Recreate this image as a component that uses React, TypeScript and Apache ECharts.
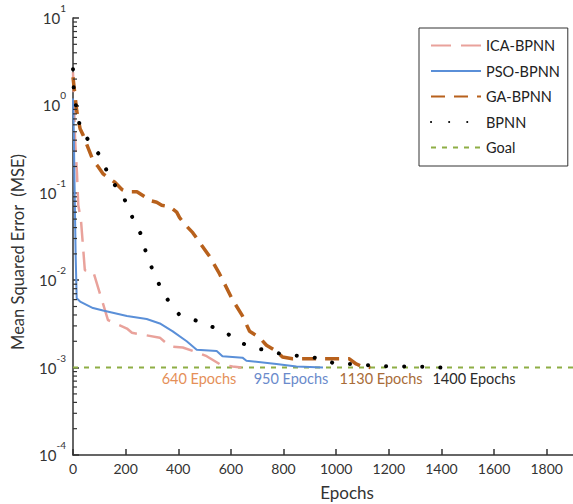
import React, { useEffect, useRef } from "react";
import * as echarts from "echarts";

// ---- data ----
const icaEpochs = [0, 8, 15, 20, 30, 45, 77, 133, 205, 224, 330, 368, 417, 470, 508, 557, 606, 640];
const icaMse = [2.4, 0.4, 0.17, 0.072, 0.05, 0.013, 0.0125, 0.0035, 0.0028, 0.0025, 0.0022, 0.00175, 0.0017, 0.0015, 0.00135, 0.0011, 0.00103, 0.001];

const psoEpochs = [0, 3, 6, 10, 14, 27, 76, 114, 205, 280, 330, 379, 432, 470, 546, 568, 644, 659, 773, 849, 950];
const psoMse = [1.2, 0.5, 0.12, 0.02, 0.0062, 0.0057, 0.0048, 0.0045, 0.0039, 0.0036, 0.0032, 0.0026, 0.002, 0.0016, 0.00155, 0.00135, 0.0013, 0.0012, 0.0011, 0.00103, 0.001];

const gaEpochs = [0, 14, 27, 38, 76, 95, 114, 133, 159, 186, 205, 243, 273, 284, 318, 337, 368, 394, 405, 424, 455, 519, 557, 606, 644, 671, 709, 735, 773, 796, 834, 909, 985, 1050, 1076, 1099, 1130];
const gaMse = [2.1, 0.87, 0.54, 0.46, 0.235, 0.2, 0.165, 0.15, 0.132, 0.109, 0.103, 0.103, 0.09, 0.083, 0.078, 0.072, 0.069, 0.06, 0.052, 0.044, 0.035, 0.0187, 0.0118, 0.006, 0.0039, 0.0026, 0.0022, 0.0018, 0.00154, 0.00132, 0.00126, 0.00126, 0.00126, 0.00126, 0.0011, 0.00103, 0.001];

const bpEpochs = [0, 3, 14, 29, 67, 105, 133, 167, 205, 227, 257, 279, 303, 332, 364, 402, 462, 519, 576, 625, 682, 746, 803, 879, 944, 1000, 1069, 1144, 1213, 1285, 1353, 1400];
const bpMse = [2.6, 1.5, 0.87, 0.53, 0.37, 0.26, 0.165, 0.112, 0.076, 0.051, 0.034, 0.02, 0.013, 0.0083, 0.0057, 0.0041, 0.0035, 0.003, 0.0026, 0.002, 0.0017, 0.00155, 0.0014, 0.00135, 0.00126, 0.0011, 0.0011, 0.00105, 0.00103, 0.00103, 0.00102, 0.001];

const goalEpochs = [0, 1900];
const goalMse = [0.001, 0.001];

const seriesNames = ["ICA-BPNN", "PSO-BPNN", "GA-BPNN", "BPNN", "Goal"];
const annotationTexts = ["640 Epochs", "950 Epochs", "1130 Epochs", "1400 Epochs"];
const xTickLabels = [0, 200, 400, 600, 800, 1000, 1200, 1400, 1600, 1800];
const yDecades = [-4, -3, -2, -1, 0, 1];

const FONT = "Lato";

function pairs(xs: number[], ys: number[]) {
  return xs.map((x, i) => [x, ys[i]]);
}

export default function App() {
  const ref = useRef<HTMLDivElement>(null);

  useEffect(() => {
    if (!ref.current) return;
    const chart = echarts.init(ref.current, undefined, { renderer: "svg" });

    // log-style minor ticks (2..9 x 10^k) on the y axis
    const minorTicks: number[][] = [];
    for (let i = 0; i < yDecades.length - 1; i++) {
      for (let m = 2; m <= 9; m++) minorTicks.push([0, m * Math.pow(10, yDecades[i])]);
    }

    const option: any = {
      animation: false,
      backgroundColor: "#fff",
      textStyle: { fontFamily: FONT },
      grid: {
        left: 73,
        right: 0,
        top: 18,
        bottom: 49,
        containLabel: false,
        outerBoundsMode: "none",
      },
      legend: {
        data: seriesNames,
        orient: "vertical",
        left: 419,
        top: 28,
        itemWidth: 50,
        itemHeight: 14,
        itemGap: 10.5,
        padding: [10, 8, 11, 11],
        backgroundColor: "#fff",
        borderColor: "#333",
        borderWidth: 1,
        borderRadius: 0,
        itemStyle: { opacity: 0, borderWidth: 0 },
        textStyle: { fontFamily: FONT, fontSize: 14.5, color: "#222" },
      },
      xAxis: {
        type: "value",
        min: 0,
        max: 1900,
        interval: 200,
        splitLine: { show: false },
        axisLine: { show: true, lineStyle: { color: "#333", width: 1.5 } },
        axisTick: { show: true, inside: true, length: 6, lineStyle: { color: "#333", width: 1.5 } },
        axisLabel: {
          margin: 6,
          fontFamily: FONT,
          fontSize: 14,
          color: "#333",
          showMaxLabel: false,
          formatter: (v: number) => (xTickLabels.indexOf(v) >= 0 ? String(v) : ""),
        },
      },
      yAxis: {
        type: "log",
        logBase: 10,
        min: Math.pow(10, yDecades[0]),
        max: Math.pow(10, yDecades[yDecades.length - 1]),
        splitLine: { show: false },
        axisLine: { show: true, lineStyle: { color: "#333", width: 1.5 } },
        axisTick: { show: true, inside: true, length: 6, lineStyle: { color: "#333", width: 1.5 } },
        axisLabel: {
          margin: 7,
          fontFamily: FONT,
          color: "#333",
          formatter: (v: number) => `{b|10}{s|${Math.round(Math.log10(v))}}`,
          rich: {
            b: { fontFamily: FONT, fontSize: 15, color: "#333", lineHeight: 30, verticalAlign: "middle" },
            s: { fontFamily: FONT, fontSize: 10, color: "#333", verticalAlign: "top" },
          },
        },
      },
      series: [
        {
          name: "ICA-BPNN",
          type: "line",
          data: pairs(icaEpochs, icaMse),
          symbol: "none",
          color: "#e9a29b",
          lineStyle: { color: "#e9a29b", width: 2.5, type: [20, 10] },
          z: 3,
        },
        {
          name: "PSO-BPNN",
          type: "line",
          data: pairs(psoEpochs, psoMse),
          symbol: "none",
          color: "#5a8fd8",
          lineStyle: { color: "#5a8fd8", width: 2, type: "solid" },
          z: 4,
        },
        {
          name: "GA-BPNN",
          type: "line",
          data: pairs(gaEpochs, gaMse),
          symbol: "none",
          color: "#b8611c",
          lineStyle: { color: "#b8611c", width: 3.5, type: [14, 9] },
          z: 5,
        },
        {
          name: "BPNN",
          type: "line",
          data: pairs(bpEpochs, bpMse),
          symbol: "none",
          color: "#000",
          lineStyle: { color: "#000", width: 4, type: [0.1, 18], cap: "round" },
          z: 6,
        },
        {
          name: "Goal",
          type: "line",
          data: pairs(goalEpochs, goalMse),
          symbol: "none",
          color: "#8eae45",
          lineStyle: { color: "#8eae45", width: 2, type: [5, 6] },
          z: 2,
        },
        {
          name: "minorTicks",
          type: "custom",
          data: minorTicks,
          silent: true,
          clip: false,
          z: 10,
          renderItem: (params: any, api: any) => {
            const p = api.coord([api.value(0), api.value(1)]);
            return {
              type: "line",
              shape: { x1: p[0], y1: p[1], x2: p[0] + 4, y2: p[1] },
              style: { stroke: "#333", lineWidth: 1.2 },
            };
          },
        },
      ],
      graphic: [
        {
          type: "text",
          x: 18,
          y: 252,
          rotation: Math.PI / 2,
          style: {
            text: "Mean Squared Error  (MSE)",
            fontFamily: FONT,
            fontSize: 16.5,
            fill: "#333",
            align: "center",
            verticalAlign: "middle",
          },
        },
        {
          type: "text",
          x: 347,
          y: 492,
          style: {
            text: "Epochs",
            fontFamily: FONT,
            fontSize: 17,
            fill: "#333",
            align: "center",
            verticalAlign: "middle",
          },
        },
        {
          type: "text",
          x: 199,
          y: 378,
          style: { text: annotationTexts[0], fontFamily: FONT, fontSize: 14.5, fill: "#e58f58", align: "center", verticalAlign: "middle" },
        },
        {
          type: "text",
          x: 291,
          y: 378,
          style: { text: annotationTexts[1], fontFamily: FONT, fontSize: 14.5, fill: "#6a8acb", align: "center", verticalAlign: "middle" },
        },
        {
          type: "text",
          x: 381,
          y: 378,
          style: { text: annotationTexts[2], fontFamily: FONT, fontSize: 14.5, fill: "#a86c38", align: "center", verticalAlign: "middle" },
        },
        {
          type: "text",
          x: 474,
          y: 378,
          style: { text: annotationTexts[3], fontFamily: FONT, fontSize: 14.5, fill: "#2a2a2a", align: "center", verticalAlign: "middle" },
        },
      ],
    };

    chart.setOption(option);
    return () => chart.dispose();
  }, []);

  return (
    <div
      ref={ref}
      style={{ position: "fixed", left: 0, top: 0, width: 573, height: 504, background: "#fff" }}
    />
  );
}
